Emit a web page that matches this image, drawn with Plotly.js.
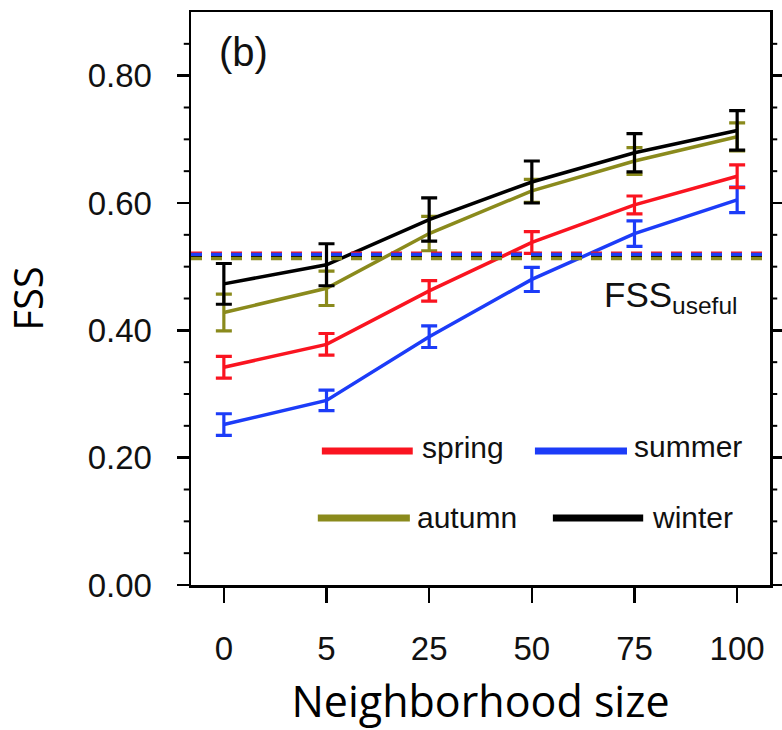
<!DOCTYPE html>
<html>
<head>
<meta charset="utf-8">
<script src="https://cdn.plot.ly/plotly-3.0.1.min.js"></script>
<style>html,body{margin:0;padding:0;background:#fff;}#chart{width:782px;height:730px;}</style>
</head>
<body>
<div id="chart"></div>
<script>
// ---- data ----
var categories = ["0", "5", "25", "50", "75", "100"];
var seasons = ["spring", "summer", "autumn", "winter"];
var spring    = [0.342, 0.378, 0.462, 0.538, 0.597, 0.642];
var springErr = [0.017, 0.017, 0.016, 0.017, 0.014, 0.018];
var summer    = [0.252, 0.290, 0.390, 0.480, 0.552, 0.605];
var summerErr = [0.017, 0.016, 0.017, 0.019, 0.020, 0.020];
var autumn    = [0.428, 0.466, 0.552, 0.619, 0.666, 0.704];
var autumnErr = [0.029, 0.027, 0.027, 0.018, 0.021, 0.022];
var winter    = [0.473, 0.503, 0.574, 0.633, 0.679, 0.714];
var winterErr = [0.032, 0.033, 0.034, 0.033, 0.030, 0.031];
// FSS_useful thresholds per season (drawing order)
var fssUsefulSeason = ["spring", "summer", "winter", "autumn"];
var fssUseful = [0.521, 0.519, 0.514, 0.513];
var yTickVals = [0, 0.2, 0.4, 0.6, 0.8];
var yTickText = ["0.00", "0.20", "0.40", "0.60", "0.80"];
var yMinorVals = [0.05, 0.1, 0.15, 0.25, 0.3, 0.35, 0.45, 0.5, 0.55, 0.65, 0.7, 0.75, 0.85];

var colors = {spring: "#fa1420", summer: "#1c3cf8", autumn: "#8a8a1c", winter: "#000000"};
var values = {spring: spring, summer: summer, autumn: autumn, winter: winter};
var errs = {spring: springErr, summer: summerErr, autumn: autumnErr, winter: winterErr};

var drawOrder = ["summer", "spring", "autumn", "winter"];
var traces = drawOrder.map(function (s) {
  return {
    type: "scatter", mode: "lines", name: s,
    x: categories, y: values[s],
    line: {color: colors[s], width: 3.5},
    error_y: {type: "data", array: errs[s], visible: true, color: colors[s], thickness: 3.2, width: 8},
    showlegend: false, hoverinfo: "skip"
  };
});

var shapes = fssUseful.map(function (v, i) {
  return {type: "line", xref: "paper", x0: 0, x1: 1, yref: "y", y0: v, y1: v,
          line: {color: colors[fssUsefulSeason[i]], width: 3.5, dash: "11px,9px"}, layer: "above"};
});

// minor ticks on left and right edges (drawn from the y scale)
yMinorVals.forEach(function (v) {
  shapes.push({type: "line", xref: "paper", yref: "y", x0: -0.0125, x1: 0, y0: v, y1: v,
               line: {color: "#000", width: 2}});
  shapes.push({type: "line", xref: "paper", yref: "y", x0: 1, x1: 1.0125, y0: v, y1: v,
               line: {color: "#000", width: 2}});
});

// manual legend (2 x 2)
var legendPos = {
  spring: {x0: 0.226, x1: 0.383, y: 0.234, tx: 0.396, ty: 0.240},
  summer: {x0: 0.594, x1: 0.753, y: 0.234, tx: 0.762, ty: 0.241},
  autumn: {x0: 0.219, x1: 0.378, y: 0.117, tx: 0.387, ty: 0.118},
  winter: {x0: 0.625, x1: 0.781, y: 0.117, tx: 0.793, ty: 0.118}
};
var annotations = [];
seasons.forEach(function (s) {
  var p = legendPos[s];
  shapes.push({type: "line", xref: "paper", yref: "paper", x0: p.x0, x1: p.x1, y0: p.y, y1: p.y,
               line: {color: colors[s], width: 7}});
  annotations.push({xref: "paper", yref: "paper", x: p.tx, y: p.ty, xanchor: "left", yanchor: "middle",
                    text: s, showarrow: false, font: {family: "Liberation Sans, Arial, sans-serif", size: 30, color: "#111"}});
});
annotations.push({xref: "paper", yref: "paper", x: 0.045, y: 0.93, xanchor: "left", yanchor: "middle",
                  text: "(b)", showarrow: false, font: {family: "Liberation Sans, Arial, sans-serif", size: 40, color: "#111"}});
annotations.push({xref: "paper", yref: "paper", x: 0.71, y: 0.503, xanchor: "left", yanchor: "middle",
                  text: "FSS<sub>useful</sub>", showarrow: false, font: {family: "Liberation Sans, Arial, sans-serif", size: 35, color: "#111"}});

var layout = {
  width: 782, height: 730,
  margin: {l: 191, r: 12, t: 12, b: 145},
  paper_bgcolor: "#fff", plot_bgcolor: "#fff",
  showlegend: false,
  xaxis: {
    type: "category", range: [-0.32, 5.32],
    showline: true, mirror: true, linecolor: "#000", linewidth: 2.5,
    ticks: "outside", ticklen: 15, tickwidth: 2.5, tickcolor: "#000",
    ticklabelstandoff: 18,
    showgrid: false, zeroline: false,
    tickfont: {family: "Liberation Sans, Arial, sans-serif", size: 33, color: "#111"},
    title: {text: "Neighborhood size", standoff: 34, font: {family: "Open Sans, sans-serif", size: 43, color: "#000"}}
  },
  yaxis: {
    range: [0, 0.9],
    tickvals: yTickVals, ticktext: yTickText,
    showline: true, mirror: "ticks", linecolor: "#000", linewidth: 2.5,
    ticks: "outside", ticklen: 12, tickwidth: 2.5, tickcolor: "#000",
    ticklabelstandoff: 18,
    showgrid: false, zeroline: false,
    tickfont: {family: "Liberation Sans, Arial, sans-serif", size: 33, color: "#111"},
    title: {text: "FSS", standoff: 46, font: {family: "Open Sans, sans-serif", size: 40, color: "#000"}}
  },
  shapes: shapes,
  annotations: annotations
};

Plotly.newPlot("chart", traces, layout, {staticPlot: true, displayModeBar: false});
</script>
</body>
</html>
